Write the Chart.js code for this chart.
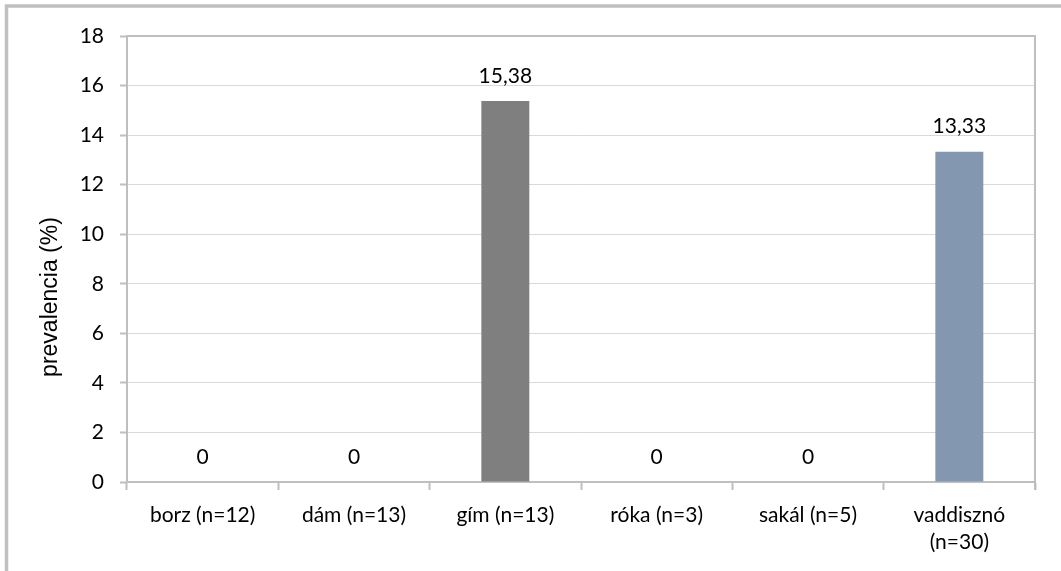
<!DOCTYPE html>
<html>
<head>
<meta charset="utf-8">
<script src="https://cdn.jsdelivr.net/npm/chart.js@4/dist/chart.umd.min.js"></script>
<style>
  html, body { margin: 0; padding: 0; background: #fff; }
  #wrap { width: 1061px; height: 571px; position: relative; }
</style>
</head>
<body>
<div id="wrap"><canvas id="c" width="1061" height="571"></canvas></div>
<script>
const categories = [
  'borz (n=12)',
  'dám (n=13)',
  'gím (n=13)',
  'róka (n=3)',
  'sakál (n=5)',
  ['vaddisznó', '(n=30)']
];
const prevalence = [0, 0, 15.38, 0, 0, 13.33];
const yTicksMin = 0;
const yTicksMax = 18;
const yTicksStep = 2;
const yAxisTitle = 'prevalencia (%)';

const FONT = 'Lato, "Open Sans", sans-serif';
const TITLE_FONT = '"Liberation Sans", Arial, sans-serif';
const FS = 21;
const barColors = ['#7f7f7f', '#7f7f7f', '#7f7f7f', '#7f7f7f', '#7f7f7f', '#8497b0'];

const framePlugin = {
  id: 'frame',
  beforeDraw(chart) {
    const ctx = chart.ctx;
    ctx.save();
    ctx.fillStyle = '#ffffff';
    ctx.fillRect(0, 0, chart.width, chart.height);
    ctx.strokeStyle = '#c0c0c0';
    ctx.lineWidth = 3.5;
    ctx.beginPath();
    ctx.moveTo(6.5, chart.height + 2);
    ctx.lineTo(6.5, 6);
    ctx.lineTo(chart.width + 2, 6);
    ctx.stroke();
    ctx.restore();
  },
  afterDraw(chart) {
    const ctx = chart.ctx;
    const a = chart.chartArea;
    ctx.save();
    ctx.strokeStyle = '#bfbfbf';
    ctx.lineWidth = 2;
    ctx.beginPath();
    ctx.moveTo(a.left, a.top);
    ctx.lineTo(a.right, a.top);
    ctx.lineTo(a.right, a.bottom + 8);
    ctx.stroke();
    // value labels
    const meta = chart.getDatasetMeta(0);
    ctx.fillStyle = '#000';
    ctx.font = FS + 'px ' + FONT;
    ctx.textAlign = 'center';
    ctx.textBaseline = 'middle';
    meta.data.forEach((bar, i) => {
      const v = chart.data.datasets[0].data[i];
      const txt = String(v).replace('.', ',');
      ctx.fillText(txt, bar.x, bar.y - 25);
    });
    // y axis title
    ctx.translate(51, 297);
    ctx.rotate(-Math.PI / 2);
    ctx.font = '23px ' + TITLE_FONT;
    ctx.fillText(yAxisTitle, 0, 0);
    ctx.restore();
  }
};

new Chart(document.getElementById('c'), {
  type: 'bar',
  data: {
    labels: categories,
    datasets: [{
      data: prevalence,
      backgroundColor: barColors,
      borderWidth: 0,
      categoryPercentage: 1,
      barPercentage: 0.317
    }]
  },
  options: {
    responsive: false,
    animation: false,
    devicePixelRatio: 1,
    layout: { padding: { left: 10, top: 36, right: 26, bottom: 0 } },
    plugins: { legend: { display: false }, tooltip: { enabled: false } },
    scales: {
      x: {
        offset: true,
        grid: {
          offset: true,
          drawOnChartArea: false,
          drawTicks: true,
          tickLength: 8,
          tickColor: '#bfbfbf',
          tickWidth: 2
        },
        border: { color: '#bfbfbf', width: 2 },
        ticks: {
          color: '#000',
          font: { family: FONT, size: FS, lineHeight: 27 / FS },
          padding: 12,
          maxRotation: 0,
          autoSkip: false
        },
        afterFit(scale) { scale.height = 89; }
      },
      y: {
        min: yTicksMin,
        max: yTicksMax,
        ticks: {
          stepSize: yTicksStep,
          color: '#000',
          font: { family: FONT, size: FS },
          padding: 16
        },
        grid: {
          color: '#d9d9d9',
          lineWidth: 1,
          tickLength: 7,
          tickColor: '#bfbfbf',
          tickWidth: 2
        },
        border: { color: '#bfbfbf', width: 2 },
        title: { display: false },
        afterFit(scale) { scale.width = 117; }
      }
    }
  },
  plugins: [framePlugin]
});
</script>
</body>
</html>
